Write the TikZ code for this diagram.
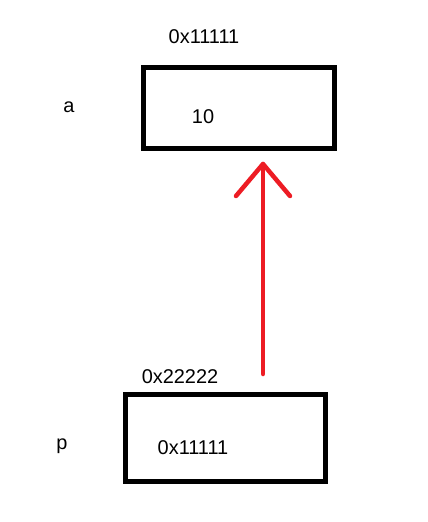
\documentclass[tikz,border=0pt]{standalone}
\usepackage{fontspec}
\setmainfont{Liberation Sans}
\definecolor{pred}{RGB}{237,28,36}
\begin{document}
\begin{tikzpicture}[x=1bp,y=-1bp,
  cell/.style={draw=black,line width=5bp,inner sep=0pt},
  lbl/.style={font=\fontsize{20}{24}\selectfont,inner sep=0pt,text=black},
  ptr/.style={draw=pred,line width=4.5bp,line cap=round,line join=round}]
\useasboundingbox (0,0) rectangle (427,522);
\draw[cell] (143,68) rectangle (334,149);
\draw[cell] (125.5,394) rectangle (325,481);
\node[lbl] (addra) at (204,37) {0x11111};
\node[lbl] (namea) at (69,107) {a};
\node[lbl] (vala) at (203,117) {10};
\node[lbl] (addrp) at (180,377) {0x22222};
\node[lbl] (namep) at (62,446) {p};
\node[lbl] (valp) at (193,448) {0x11111};
\coordinate (tail) at (263,374);
\coordinate (tip) at (263,164);
\coordinate (hl) at (236,196);
\coordinate (hr) at (290,196);
\draw[ptr] (tail) -- (tip);
\draw[ptr] (hl) -- (tip) -- (hr);
\end{tikzpicture}
\end{document}
